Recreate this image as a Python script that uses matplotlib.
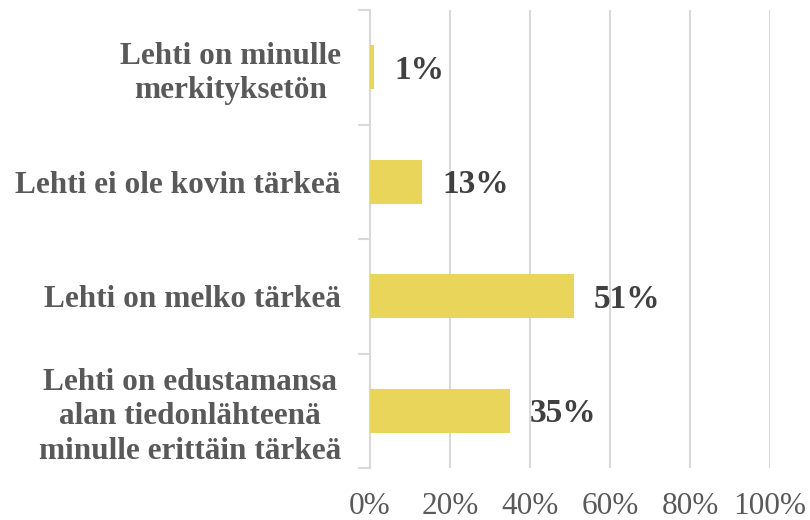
import matplotlib
matplotlib.use("Agg")
import matplotlib.pyplot as plt
from matplotlib.ticker import FixedLocator, NullFormatter

categories = [
    "Lehti on edustamansa\nalan tiedonlähteenä\nminulle erittäin tärkeä",
    "Lehti on melko tärkeä",
    "Lehti ei ole kovin tärkeä",
    "Lehti on minulle\nmerkityksetön",
]
values = [35, 51, 13, 1]
xticks = [0, 20, 40, 60, 80, 100]
xtick_labels = ["0%", "20%", "40%", "60%", "80%", "100%"]

plt.rcParams['font.family'] = ['Liberation Serif', 'DejaVu Serif']

fig = plt.figure(figsize=(8.1, 5.2), dpi=100)
ax = fig.add_axes([370/810, 1 - 468/520, 400/810, 458/520])

ypos = list(range(len(categories)))
ax.barh(ypos, values, height=0.38, color="#E9D55A", zorder=3)

for y, v in zip(ypos, values):
    ax.annotate(f"{v}%", xy=(v + 5, y), xytext=(0, -2), textcoords="offset points",
                va="center", ha="left", fontsize=24,
                fontweight="bold", color="#404040", zorder=4)

ax.set_xlim(0, 100)
ax.set_ylim(-0.5, len(categories) - 0.5)
ax.set_xticks(xticks)
ax.set_xticklabels(xtick_labels, fontsize=22.5, color="#595959")
ax.tick_params(axis="x", length=0, pad=17)

ax.set_yticks(ypos)
ax.set_yticklabels(categories, fontsize=22.5, fontweight="bold", color="#595959",
                   ha="right", multialignment="center", linespacing=1.25)
ax.tick_params(axis="y", which="major", length=0, pad=21)
ax.yaxis.set_minor_locator(FixedLocator([-0.5, 0.5, 1.5, 2.5, 3.5]))
ax.yaxis.set_minor_formatter(NullFormatter())
ax.tick_params(axis="y", which="minor", length=9, width=1.5, color="#D9D9D9")

ax.grid(axis="x", color="#D9D9D9", linewidth=1.5, zorder=0)
ax.set_axisbelow(True)
for s in ["top", "right", "bottom"]:
    ax.spines[s].set_visible(False)
ax.spines["left"].set_color("#D9D9D9")
ax.spines["left"].set_linewidth(1.5)

fig.savefig("out.png", dpi=100)
